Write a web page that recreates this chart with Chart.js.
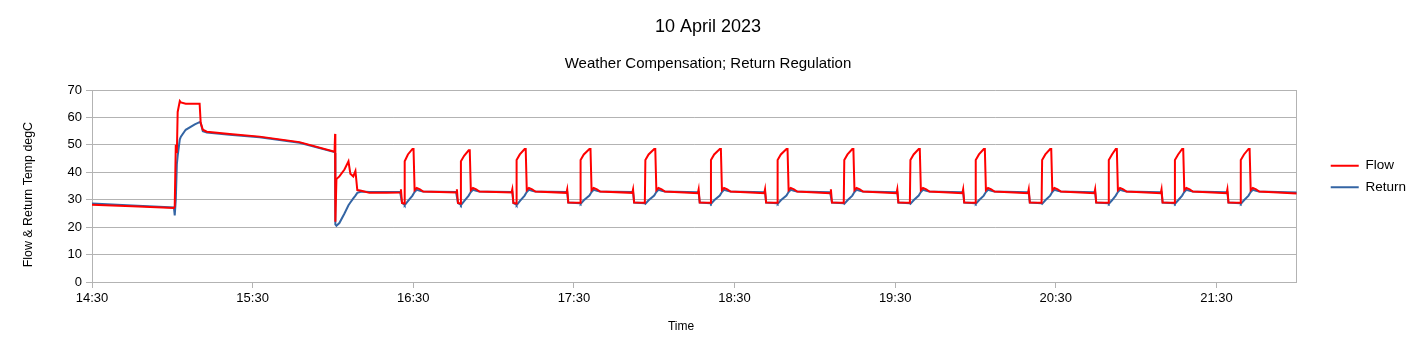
<!DOCTYPE html>
<html>
<head>
<meta charset="utf-8">
<script src="https://cdn.jsdelivr.net/npm/chart.js@4"></script>
<style>
  html, body { margin: 0; padding: 0; background: #fff; }
</style>
</head>
<body>
<canvas id="chart" width="1418" height="353"></canvas>
<script>
// minutes after 14:30
const times = [
  0, 15, 30.6, 30.9, 31.3, 31.7, 32.0, 32.8, 33.2, 35.0, 38.4, 40.2, 40.6, 41.4, 42.9, 51.4, 62.6, 77.5,
  90.6, 90.8, 90.9, 91.3, 92.4, 94.3, 95.8, 96.5, 97.6, 98.4, 99.1, 100.6, 103.6, 110,
  115.1, 115.4, 115.8, 116.6, 116.8, 118.0, 119.7, 120.1, 120.5, 121.3, 122.5, 123.7,
  136.0, 136.3, 136.7, 137.6, 137.8, 139.0, 140.7, 141.1, 141.5, 142.3, 143.5, 144.7,
  156.7, 157.0, 157.4, 158.4, 158.6, 159.8, 161.6, 162.0, 162.4, 163.2, 164.4, 165.6,
  177.2, 177.5, 177.9, 182.3, 182.5, 183.7, 185.8, 186.2, 186.6, 187.4, 188.6, 189.8,
  201.8, 202.1, 202.5, 206.5, 206.7, 207.9, 210.0, 210.4, 210.8, 211.6, 212.8, 214.0,
  226.3, 226.6, 227.0, 231.0, 231.2, 232.4, 234.5, 234.9, 235.3, 236.1, 237.3, 238.5,
  251.1, 251.4, 251.8, 255.9, 256.1, 257.3, 259.4, 259.8, 260.2, 261.0, 262.2, 263.4,
  275.7, 276.0, 276.4, 280.8, 281.0, 282.2, 284.0, 284.4, 284.8, 285.6, 286.8, 288.0,
  300.5, 300.8, 301.2, 305.5, 305.7, 306.9, 308.8, 309.2, 309.6, 310.4, 311.6, 312.8,
  325.1, 325.4, 325.8, 329.9, 330.1, 331.3, 333.1, 333.5, 333.9, 334.7, 335.9, 337.1,
  349.6, 349.9, 350.3, 354.7, 354.9, 356.1, 357.9, 358.3, 358.7, 359.5, 360.7, 361.9,
  374.4, 374.7, 375.1, 379.6, 379.8, 381.0, 382.4, 382.8, 383.2, 384.0, 385.2, 386.4,
  399.2, 399.5, 399.9, 404.3, 404.5, 405.7, 407.2, 407.6, 408.0, 408.8, 410.0, 411.2,
  423.8, 424.1, 424.5, 428.9, 429.1, 430.3, 432.0, 432.4, 432.8, 433.6, 434.8, 436.0,
  450
];

const flowTemps = [
  28.2, 27.6, 27.0, 27.5, 50.0, 47.0, 62.0, 66.0, 65.5, 65.0, 65.0, 65.0, 58.0, 55.5, 54.8, 54.0, 53.0, 51.0,
  47.5, 54.0, 22.0, 37.5, 38.5, 41.0, 44.0, 39.5, 38.5, 40.5, 33.5, 33.3, 32.5, 32.5,
  32.6, 33.8, 28.8, 28.6, 44.0, 46.5, 48.5, 48.5, 33.5, 34.3, 33.8, 33.0,
  32.6, 33.8, 28.8, 28.6, 44.0, 46.0, 48.0, 48.0, 33.5, 34.3, 33.8, 33.0,
  32.6, 33.8, 28.8, 28.6, 44.5, 46.5, 48.5, 48.5, 33.5, 34.3, 33.8, 33.0,
  32.5, 33.8, 29.0, 28.9, 44.5, 46.5, 48.5, 48.5, 33.5, 34.3, 33.8, 33.0,
  32.5, 33.8, 29.0, 28.9, 44.5, 46.5, 48.5, 48.5, 33.5, 34.3, 33.8, 33.0,
  32.4, 33.8, 29.0, 28.9, 44.5, 46.5, 48.5, 48.5, 33.5, 34.3, 33.8, 33.0,
  32.4, 33.8, 29.0, 28.9, 44.5, 46.5, 48.5, 48.5, 33.5, 34.3, 33.8, 33.0,
  32.4, 33.8, 29.0, 28.9, 44.5, 46.5, 48.5, 48.5, 33.5, 34.3, 33.8, 33.0,
  32.4, 33.8, 29.0, 28.9, 44.5, 46.5, 48.5, 48.5, 33.5, 34.3, 33.8, 33.0,
  32.4, 33.8, 29.0, 28.9, 44.5, 46.5, 48.5, 48.5, 33.5, 34.3, 33.8, 33.0,
  32.4, 33.8, 29.0, 28.9, 44.5, 46.5, 48.5, 48.5, 33.5, 34.3, 33.8, 33.0,
  32.4, 33.8, 29.0, 28.9, 44.5, 46.5, 48.5, 48.5, 33.5, 34.3, 33.8, 33.0,
  32.4, 33.8, 29.0, 28.9, 44.5, 46.5, 48.5, 48.5, 33.5, 34.3, 33.8, 33.0,
  32.4, 33.8, 29.0, 28.9, 44.5, 46.5, 48.5, 48.5, 33.5, 34.3, 33.8, 33.0,
  32.3
];

const returnTemps = [
  28.6, 27.9, 27.2, 24.3, 30.0, 43.0, 46.0, 52.0, 53.0, 55.5, 57.5, 58.3, 58.0, 55.0, 54.5, 53.7, 52.8, 50.8,
  47.4, 47.0, 21.0, 20.5, 21.5, 25.0, 28.0, 29.0, 30.5, 31.5, 32.5, 33.0, 32.8, 32.8,
  32.8, 32.8, 28.8, 28.3, 28.0, 29.5, 31.5, 32.2, 32.8, 33.6, 33.3, 33.0,
  32.8, 32.8, 28.8, 28.3, 28.0, 29.5, 31.5, 32.2, 32.8, 33.6, 33.3, 33.0,
  32.8, 32.8, 28.8, 28.3, 28.0, 29.5, 31.5, 32.2, 32.8, 33.6, 33.3, 33.0,
  32.8, 32.8, 29.0, 28.7, 28.5, 29.8, 31.5, 32.2, 32.8, 33.6, 33.3, 33.0,
  32.8, 32.8, 29.0, 28.7, 28.5, 29.8, 31.5, 32.2, 32.8, 33.6, 33.3, 33.0,
  32.7, 32.7, 29.0, 28.7, 28.5, 29.8, 31.5, 32.2, 32.8, 33.6, 33.3, 33.0,
  32.7, 32.7, 29.0, 28.7, 28.5, 29.8, 31.5, 32.2, 32.8, 33.6, 33.3, 33.0,
  32.7, 32.7, 29.0, 28.7, 28.5, 29.8, 31.5, 32.2, 32.8, 33.6, 33.3, 33.0,
  32.7, 32.7, 29.0, 28.7, 28.5, 29.8, 31.5, 32.2, 32.8, 33.6, 33.3, 33.0,
  32.7, 32.7, 29.0, 28.7, 28.5, 29.8, 31.5, 32.2, 32.8, 33.6, 33.3, 33.0,
  32.7, 32.7, 29.0, 28.7, 28.5, 29.8, 31.5, 32.2, 32.8, 33.6, 33.3, 33.0,
  32.7, 32.7, 29.0, 28.7, 28.5, 29.8, 31.5, 32.2, 32.8, 33.6, 33.3, 33.0,
  32.7, 32.7, 29.0, 28.7, 28.5, 29.8, 31.5, 32.2, 32.8, 33.6, 33.3, 33.0,
  32.7, 32.7, 29.0, 28.7, 28.5, 29.8, 31.5, 32.2, 32.8, 33.6, 33.3, 33.0,
  32.6
];

const startMinutes = 14 * 60 + 30;
const GRID = '#b3b3b3';

function timeLabel(value) {
  const total = startMinutes + value;
  const h = Math.floor(total / 60);
  const m = total % 60;
  return h + ':' + String(m).padStart(2, '0');
}

Chart.defaults.font.family = '"Liberation Sans", Arial, sans-serif';
Chart.defaults.color = '#000';

const ctx = document.getElementById('chart').getContext('2d');
new Chart(ctx, {
  type: 'line',
  data: {
    datasets: [
      {
        label: 'Flow',
        data: times.map((t, i) => ({ x: t, y: flowTemps[i] })),
        borderColor: '#ff0000',
        backgroundColor: '#ff0000',
        borderWidth: 2,
        pointRadius: 0,
        tension: 0
      },
      {
        label: 'Return',
        data: times.map((t, i) => ({ x: t, y: returnTemps[i] })),
        borderColor: '#3465a4',
        backgroundColor: '#3465a4',
        borderWidth: 2,
        pointRadius: 0,
        tension: 0
      }
    ]
  },
  options: {
    responsive: false,
    animation: false,
    layout: { padding: { left: 0, right: 2, top: 0, bottom: 0 } },
    plugins: {
      title: {
        display: true,
        text: '10 April 2023',
        color: '#000',
        font: { size: 18, weight: 'normal' },
        padding: { top: 16.2, bottom: 10 }
      },
      subtitle: {
        display: true,
        text: 'Weather Compensation; Return Regulation',
        color: '#000',
        font: { size: 15 },
        padding: { top: 7.2, bottom: 17 }
      },
      legend: {
        position: 'right',
        labels: {
          usePointStyle: true,
          pointStyle: 'line',
          pointStyleWidth: 28,
          boxHeight: 13,
          padding: 8,
          color: '#000',
          font: { size: 13.5 }
        }
      },
      tooltip: { enabled: false }
    },
    scales: {
      x: {
        type: 'linear',
        min: 0,
        max: 450,
        afterFit: s => { s.height = 71 },
        ticks: {
          stepSize: 60,
          includeBounds: false,
          maxRotation: 0,
          padding: 3,
          color: '#000',
          font: { size: 13 },
          callback: v => timeLabel(v)
        },
        grid: { drawOnChartArea: false, color: GRID, tickLength: 6 },
        border: { color: GRID },
        // trailing spaces push the label left, as in the original
        title: { display: true, text: 'Time        ', color: '#000', font: { size: 12 }, padding: { top: 0, bottom: 18.8 } }
      },
      y: {
        min: 0,
        max: 70,
        afterFit: s => { s.width = 92 },
        ticks: { stepSize: 10, padding: 4, color: '#000', font: { size: 13 } },
        grid: { color: GRID, tickLength: 6 },
        border: { color: GRID },
        title: { display: true, text: 'Flow & Return Temp degC     ', color: '#000', font: { size: 12.4 }, padding: { top: 20.8, bottom: 0 } }
      },
      y2: {
        position: 'right',
        min: 0,
        max: 70,
        afterFit: s => { s.width = 26 },
        ticks: { display: false },
        grid: { drawOnChartArea: false, drawTicks: false },
        border: { color: GRID }
      }
    }
  }
});
</script>
</body>
</html>
